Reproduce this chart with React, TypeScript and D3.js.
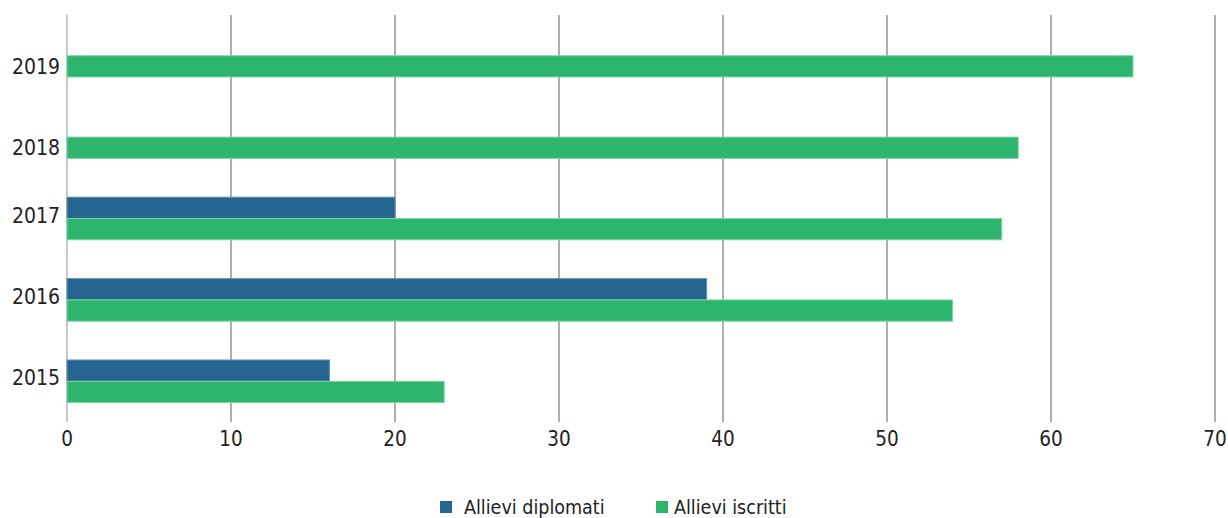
import React from "react";
import * as d3 from "d3";

const years = ["2015", "2016", "2017", "2018", "2019"];
const diplomati: (number | null)[] = [16, 39, 20, null, null];
const iscritti: (number | null)[] = [23, 54, 57, 58, 65];
const xTicks = [0, 10, 20, 30, 40, 50, 60, 70];
const seriesNames = ["Allievi diplomati", "Allievi iscritti"];
const seriesColors = ["#276591", "#2db56e"];
const seriesStroke = ["#5d8fb5", "#7fd6a4"];

const W = 1228;
const H = 518;
const FONT = "'Liberation Sans Narrow', 'DejaVu Sans Condensed', 'Roboto', sans-serif";

export default function App() {
  const x = d3.scaleLinear().domain([0, 70]).range([67, 1215]);
  const y = d3
    .scaleBand<string>()
    .domain([...years].reverse())
    .range([15, 422])
    .padding(0);
  const barH = 21.3;
  const series = [diplomati, iscritti];

  return (
    <svg
      width={W}
      height={H}
      style={{ position: "absolute", left: 0, top: 0, background: "#fff" }}
      fontFamily={FONT}
    >
      {/* vertical gridlines */}
      {xTicks.map((t) => (
        <line
          key={t}
          x1={x(t)}
          x2={x(t)}
          y1={15}
          y2={422}
          stroke={t === 0 ? "#c8c8c8" : "#9a9a9a"}
          strokeWidth={t === 0 ? 2 : 1.6}
        />
      ))}
      {/* bars */}
      {years.map((yr, i) => {
        const c = (y(yr) as number) + y.bandwidth() / 2;
        return series.map((s, si) => {
          const v = s[i];
          if (v == null) return null;
          const top = si === 0 ? c - barH : c;
          return (
            <rect
              key={yr + si}
              x={x(0)}
              y={top}
              width={x(v) - x(0)}
              height={barH}
              fill={seriesColors[si]}
              stroke={seriesStroke[si]}
              strokeWidth={1}
            />
          );
        });
      })}
      {/* category labels */}
      {years.map((yr, i) => {
        const c = (y(yr) as number) + y.bandwidth() / 2;
        const both = diplomati[i] != null && iscritti[i] != null;
        const ly = both ? c - 3.5 : c + barH / 2;
        return (
          <text
            key={yr}
            x={60}
            y={ly}
            dy="0.36em"
            textAnchor="end"
            fontSize={21}
            fill="#222"
          >
            {yr}
          </text>
        );
      })}
      {/* x tick labels */}
      {xTicks.map((t) => (
        <text
          key={"t" + t}
          x={x(t)}
          y={446}
          textAnchor="middle"
          fontSize={20.5}
          fill="#222"
        >
          {t}
        </text>
      ))}
      {/* legend */}
      {seriesNames.map((n, i) => {
        const lx = [440, 656][i];
        return (
          <g key={n}>
            <rect x={lx} y={501} width={12} height={12} fill={seriesColors[i]} />
            <text x={lx + (i === 0 ? 24 : 18)} y={514} fontSize={19.5} fill="#222">
              {n}
            </text>
          </g>
        );
      })}
    </svg>
  );
}
